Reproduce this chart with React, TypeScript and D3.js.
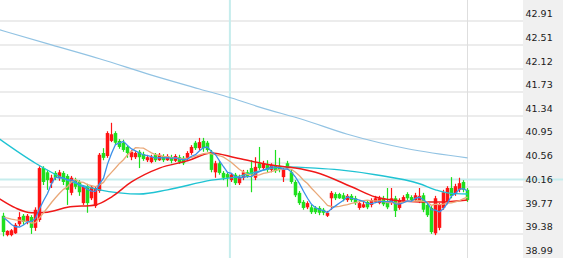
import React from "react";
import * as d3 from "d3";

const W = 563;
const H = 258;
const AXIS_X = 523;

const tickLabels = ["42.91", "42.51", "42.12", "41.73", "41.34", "40.95", "40.56", "40.16", "39.77", "39.38", "38.99"];

const priorCloses = [39.42, 39.48, 39.55, 39.6, 39.62, 39.58, 39.63, 39.6, 39.56];

const opens = [
  39.56, 39.24, 39.24, 39.27, 39.42, 39.56, 39.46, 39.54, 39.36, 39.49,
  40.35, 40.28, 40.10, 40.27, 40.19, 40.27, 40.22, 39.94, 40.15, 40.12,
  39.77, 40.05, 39.85, 39.72, 39.97, 40.60, 40.55, 40.80, 40.93, 40.80,
  40.77, 40.70, 40.53, 40.53, 40.62, 40.58, 40.48, 40.45, 40.57, 40.48,
  40.55, 40.48, 40.53, 40.47, 40.53, 40.52, 40.52, 40.60, 40.77, 40.68,
  40.80, 40.77, 40.62, 40.28, 40.43, 40.27, 40.25, 40.15, 40.24, 40.10,
  40.19, 40.28, 40.35, 40.19, 40.43, 40.35, 40.40, 40.32, 40.40, 40.38,
  40.20, 40.43, 40.28, 40.12, 39.94, 39.79, 39.70, 39.70, 39.69, 39.69,
  39.66, 39.56, 39.85, 39.92, 39.92, 39.90, 39.82, 39.89, 39.85, 39.69,
  39.70, 39.79, 39.74, 39.79, 39.77, 39.85, 39.79, 39.77, 39.85, 39.69,
  39.80, 39.92, 39.87, 39.82, 39.80, 39.90, 39.74, 39.69, 39.27, 39.36,
  39.69, 39.79, 40.02, 39.92, 39.99, 40.12, 39.99,
];

const closes = [
  39.29, 39.31, 39.32, 39.41, 39.54, 39.46, 39.56, 39.36, 39.66, 40.35,
  40.12, 40.15, 40.19, 40.19, 40.28, 40.12, 39.99, 40.19, 40.04, 39.95,
  40.04, 39.77, 40.04, 40.02, 40.57, 40.52, 40.93, 40.91, 40.77, 40.70,
  40.65, 40.60, 40.62, 40.60, 40.53, 40.50, 40.53, 40.53, 40.48, 40.57,
  40.48, 40.55, 40.47, 40.55, 40.45, 40.43, 40.60, 40.70, 40.68, 40.78,
  40.68, 40.65, 40.32, 40.43, 40.27, 40.19, 40.19, 40.24, 40.10, 40.20,
  40.28, 40.22, 40.24, 40.37, 40.35, 40.43, 40.32, 40.40, 40.30, 40.32,
  40.32, 40.35, 40.12, 39.90, 39.77, 39.69, 39.77, 39.62, 39.62, 39.61,
  39.61, 39.61, 39.94, 39.85, 39.85, 39.84, 39.89, 39.82, 39.77, 39.77,
  39.75, 39.70, 39.82, 39.85, 39.85, 39.75, 39.70, 39.85, 39.64, 39.82,
  39.87, 39.85, 39.82, 39.90, 39.89, 39.66, 39.57, 39.29, 39.85, 39.74,
  39.95, 40.02, 39.89, 40.05, 40.10, 39.99, 39.82,
];

const highs = [
  39.61, 39.32, 39.34, 39.44, 39.62, 39.59, 39.59, 39.57, 39.70, 40.38,
  40.38, 40.32, 40.24, 40.30, 40.32, 40.30, 40.25, 40.22, 40.19, 40.15,
  40.07, 40.09, 40.07, 40.05, 40.60, 40.68, 40.96, 41.10, 40.96, 40.83,
  40.82, 40.73, 40.65, 40.63, 40.65, 40.62, 40.57, 40.57, 40.60, 40.60,
  40.58, 40.58, 40.57, 40.58, 40.57, 40.55, 40.63, 40.73, 40.80, 40.85,
  40.85, 40.80, 40.65, 40.47, 40.47, 40.30, 40.28, 40.27, 40.27, 40.24,
  40.32, 40.32, 40.48, 40.53, 40.70, 40.47, 40.48, 40.43, 40.65, 40.52,
  40.35, 40.47, 40.32, 40.15, 39.97, 39.82, 39.80, 39.74, 39.72, 39.72,
  39.69, 39.64, 39.97, 39.95, 39.94, 39.94, 39.92, 39.92, 39.89, 39.82,
  39.79, 39.82, 39.85, 39.89, 39.89, 39.89, 40.02, 40.02, 39.89, 39.85,
  39.90, 39.95, 39.90, 39.94, 40.02, 39.94, 39.77, 39.72, 39.89, 39.77,
  39.99, 40.05, 40.20, 40.09, 40.19, 40.15, 40.02,
];

const lows = [
  39.22, 39.22, 39.22, 39.26, 39.39, 39.41, 39.42, 39.26, 39.31, 39.46,
  40.07, 39.99, 40.02, 40.15, 40.14, 40.07, 39.74, 39.90, 40.00, 39.89,
  39.74, 39.61, 39.82, 39.69, 39.94, 40.48, 40.52, 40.78, 40.73, 40.67,
  40.62, 40.52, 40.48, 40.50, 40.35, 40.47, 40.45, 40.43, 40.45, 40.47,
  40.45, 40.47, 40.43, 40.45, 40.42, 40.40, 40.48, 40.57, 40.65, 40.65,
  40.62, 40.62, 40.28, 40.19, 40.24, 40.15, 40.04, 40.12, 40.07, 40.07,
  40.15, 40.19, 39.95, 40.15, 40.32, 40.32, 40.28, 40.28, 40.27, 40.28,
  40.12, 40.32, 40.09, 39.87, 39.74, 39.66, 39.67, 39.59, 39.59, 39.57,
  39.57, 39.54, 39.66, 39.82, 39.84, 39.80, 39.79, 39.79, 39.74, 39.66,
  39.69, 39.67, 39.70, 39.77, 39.75, 39.72, 39.67, 39.74, 39.54, 39.66,
  39.79, 39.82, 39.79, 39.79, 39.77, 39.62, 39.54, 39.26, 39.24, 39.32,
  39.66, 39.75, 39.85, 39.89, 39.95, 39.95, 39.79,
];

// Long moving averages (candle index, value)
const redMaIndex = [-1, 3, 7, 11, 16, 23, 27, 32, 39, 46, 52, 58, 67, 73, 78, 87, 93, 97, 104, 110, 116];
const redMaValues = [39.84, 39.69, 39.61, 39.62, 39.70, 39.74, 39.87, 40.12, 40.35, 40.47, 40.60, 40.52, 40.40, 40.35, 40.28, 40.04, 39.87, 39.82, 39.79, 39.79, 39.82];

const cyanMaIndex = [-1, 8, 16, 24, 29, 34, 41, 52, 58, 64, 70, 78, 84, 93, 104, 108, 111, 116];
const cyanMaValues = [40.83, 40.43, 40.15, 39.99, 39.94, 39.92, 39.99, 40.15, 40.20, 40.30, 40.37, 40.35, 40.32, 40.24, 40.09, 39.99, 39.94, 39.92];

const slowMaIndex = [-1, 12, 24, 37, 49, 57, 64, 75, 86, 101, 116];
const slowMaValues = [42.64, 42.39, 42.16, 41.89, 41.66, 41.51, 41.36, 41.15, 40.91, 40.67, 40.52];

const crosshairIndex = 56.6;
const crosshairValue = 40.16;

const UP = "#ff1414";
const DOWN = "#1ee01e";

export default function App() {
  const n = closes.length;
  const x = d3.scaleLinear().domain([0, n - 1]).range([3.5, 3.5 + 4 * (n - 1)]);
  const y = d3.scaleLinear().domain([38.99, 42.91]).range([250.2, 13.5]);

  const all = priorCloses.concat(closes);
  const ma = (k: number) =>
    closes.map((_, i) => {
      const end = i + priorCloses.length;
      return d3.mean(all.slice(end - k + 1, end + 1)) as number;
    });
  const ma5 = ma(5);
  const ma10 = ma(10);

  const line = d3
    .line<number>()
    .x((_, i) => x(i))
    .y((d) => y(d));

  const smooth = (idx: number[], vals: number[]) =>
    d3
      .line<number>()
      .x((_, i) => x(idx[i]))
      .y((d) => y(d))
      .curve(d3.curveMonotoneX)(vals) as string;

  const bodyW = 3.5;
  const tickNums = tickLabels.map(Number);

  return (
    <svg
      width={W}
      height={H}
      style={{ position: "fixed", left: 0, top: 0, background: "#fff" }}
      fontFamily="'DejaVu Sans', Verdana, sans-serif"
    >
      <defs>
        <clipPath id="plot">
          <rect x={0} y={0} width={AXIS_X} height={H} />
        </clipPath>
      </defs>
      <rect x={0} y={0} width={W} height={H} fill="#fff" />
      <rect x={AXIS_X} y={0} width={W - AXIS_X} height={H} fill="#f0f0f0" />
      {tickNums.slice(0, 10).map((v, i) => (
        <line key={"g" + i} x1={0} x2={AXIS_X} y1={Math.round(y(v) + 7.5)} y2={Math.round(y(v) + 7.5)} stroke="#ececec" strokeWidth={2} />
      ))}
      <line x1={x(n - 1)} x2={x(n - 1)} y1={0} y2={H} stroke="#dedede" strokeWidth={1} />
      <line x1={x(crosshairIndex)} x2={x(crosshairIndex)} y1={0} y2={H} stroke="#c6eded" strokeWidth={2} />
      <line x1={0} x2={W} y1={y(crosshairValue)} y2={y(crosshairValue)} stroke="#c6eded" strokeWidth={2} />
      <g clipPath="url(#plot)">
        <path d={smooth(slowMaIndex, slowMaValues)} fill="none" stroke="#92c3e3" strokeWidth={1.2} />
        {closes.map((c, i) => {
          const o = opens[i];
          const up = c >= o;
          const col = up ? UP : DOWN;
          const cx = x(i);
          const top = y(Math.max(o, c));
          const bot = y(Math.min(o, c));
          return (
            <g key={"c" + i}>
              <line x1={cx} x2={cx} y1={y(highs[i])} y2={y(lows[i])} stroke={col} strokeWidth={1.2} />
              <rect x={cx - bodyW / 2} y={top} width={bodyW} height={Math.max(1.5, bot - top)} fill={col} />
            </g>
          );
        })}
        <path d={smooth(cyanMaIndex, cyanMaValues)} fill="none" stroke="#1fc3d3" strokeWidth={1.4} />
        <path d={smooth(redMaIndex, redMaValues)} fill="none" stroke="#f01818" strokeWidth={1.5} />
        <path d={line(ma10) as string} fill="none" stroke="#e9a878" strokeWidth={1.3} />
        <path d={line(ma5) as string} fill="none" stroke="#3a90ea" strokeWidth={1.3} />
      </g>
      {tickLabels.map((t, i) => (
        <text key={"t" + i} x={525.5} y={y(tickNums[i])} dy="0.36em" fontSize={9.5} fill="#1a1a1a">
          {t}
        </text>
      ))}
    </svg>
  );
}
